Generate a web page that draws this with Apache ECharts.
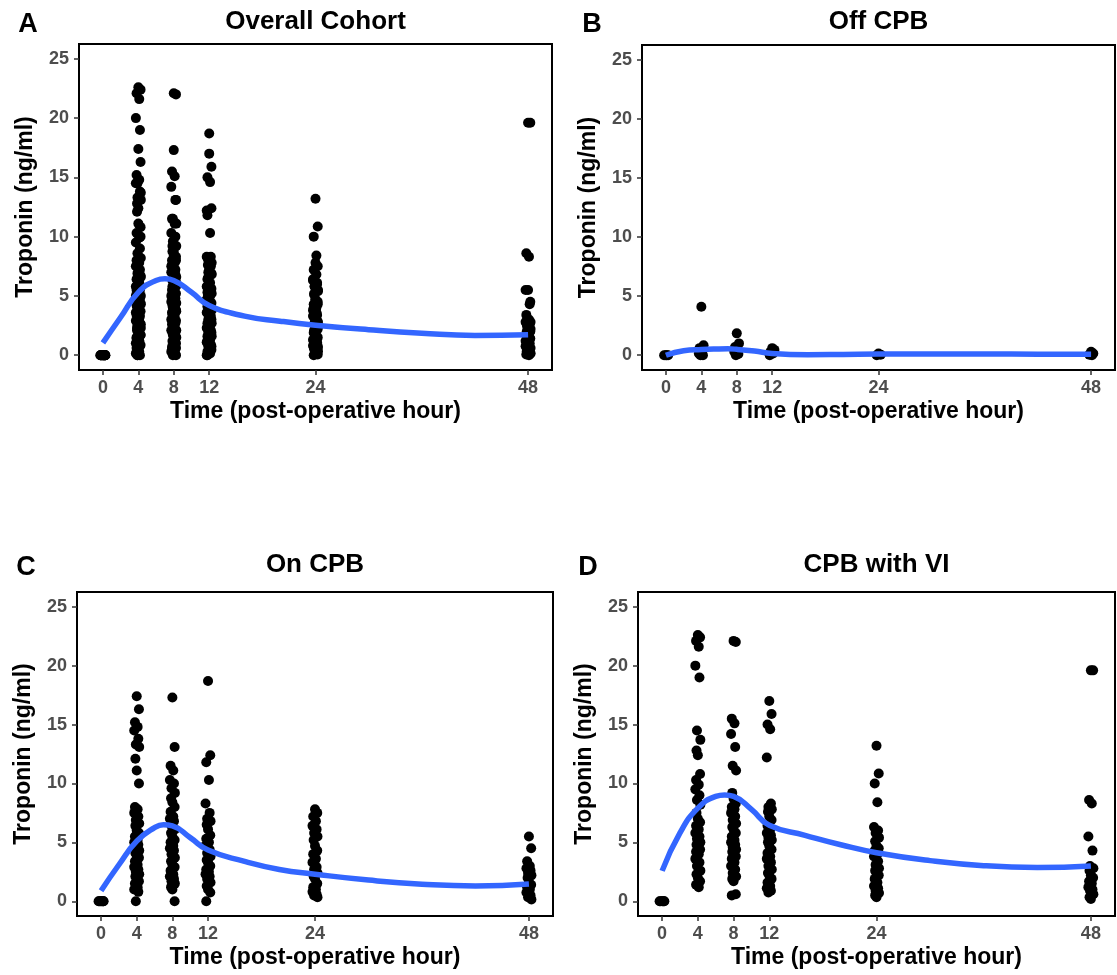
<!DOCTYPE html>
<html>
<head>
<meta charset="utf-8">
<title>Troponin over time</title>
<script src="https://cdn.jsdelivr.net/npm/echarts@6/dist/echarts.min.js"></script>
<style>
html, body { margin: 0; padding: 0; background: #fff; }
#chart { width: 1117px; height: 975px; }
</style>
</head>
<body>
<div id="chart"></div>
<script>
var hours = [0, 4, 8, 12, 24, 48];
var yTicks = [0, 5, 10, 15, 20, 25];

// troponin values per hour (one list for each entry of hours)
var offCpbValues = [
    [0, 0, 0, 0],
    [4.1, 0.85, 0.6, 0.3, 0.15, 0, 0],
    [1.85, 1.0, 0.7, 0.45, 0.3, 0.1, 0],
    [0.6, 0.45, 0.3, 0.15, 0],
    [0.15, 0.05, 0],
    [0.3, 0.15, 0.05, 0]
];
var onCpbValues = [
    [0, 0, 0, 0, 0, 0, 0, 0],
    [17.4, 16.3, 15.2, 14.8, 14.5, 13.8, 13.3, 13.1, 12.1, 11.1, 10.0, 8.0, 7.8, 7.5, 7.2, 6.9, 6.6, 6.4, 6.0, 5.8, 5.5, 5.2, 5.0, 4.8, 4.5, 4.3, 4.1, 3.9, 3.7, 3.4, 3.1, 2.9, 2.7, 2.5, 2.3, 2.1, 1.9, 1.7, 1.5, 1.2, 1.0, 0.8, 0],
    [17.3, 13.1, 11.5, 11.1, 10.3, 10.0, 9.6, 9.2, 8.75, 8.4, 8.0, 7.6, 7.2, 7.0, 6.8, 6.4, 6.1, 5.8, 5.5, 5.2, 5.0, 4.7, 4.5, 4.3, 4.0, 3.7, 3.4, 3.1, 2.9, 2.6, 2.3, 2.1, 1.9, 1.7, 1.5, 1.2, 1.0, 0],
    [18.7, 12.4, 11.8, 10.3, 8.3, 7.5, 7.0, 6.8, 6.5, 6.1, 5.6, 5.3, 5.0, 4.7, 4.4, 4.1, 3.8, 3.5, 3.3, 3.0, 2.7, 2.5, 2.3, 2.1, 1.9, 1.6, 1.3, 1.0, 0.75, 0],
    [7.8, 7.5, 7.2, 6.8, 6.4, 6.1, 5.8, 5.5, 5.2, 4.7, 4.3, 4.0, 3.6, 3.3, 2.9, 2.7, 2.4, 2.1, 1.9, 1.5, 1.2, 1.0, 0.8, 0.6, 0.5, 0.34],
    [5.5, 4.5, 3.4, 3.0, 2.8, 2.6, 2.4, 2.2, 2.0, 1.6, 1.4, 1.2, 1.0, 0.75, 0.5, 0.34, 0.15]
];
var viCpbValues = [
    [0, 0, 0, 0, 0, 0],
    [22.6, 22.4, 22.1, 21.6, 20.0, 19.0, 14.5, 13.7, 12.8, 12.4, 10.8, 10.3, 9.9, 9.5, 9.0, 8.6, 8.2, 7.5, 7.0, 6.7, 6.4, 6.1, 5.8, 5.5, 5.3, 5.0, 4.8, 4.6, 4.4, 4.2, 4.0, 3.6, 3.3, 3.0, 2.6, 2.3, 2.0, 1.7, 1.4, 1.2],
    [22.1, 22.0, 15.5, 15.1, 14.2, 13.1, 11.5, 11.1, 9.2, 8.7, 8.3, 8.0, 7.8, 7.5, 7.2, 6.9, 6.6, 6.3, 6.1, 5.8, 5.5, 5.2, 5.0, 4.8, 4.6, 4.4, 4.2, 4.0, 3.8, 3.6, 3.3, 3.0, 2.7, 2.4, 2.1, 1.9, 1.7, 0.6, 0.5],
    [17.0, 15.9, 15.0, 14.6, 12.2, 8.3, 8.0, 7.8, 7.6, 7.2, 6.9, 6.4, 6.1, 5.8, 5.6, 5.4, 5.2, 5.0, 4.7, 4.4, 4.1, 3.8, 3.6, 3.3, 3.0, 2.7, 2.4, 2.2, 1.9, 1.6, 1.3, 1.1, 0.9, 0.75],
    [13.2, 10.85, 10.0, 8.4, 6.3, 6.0, 5.8, 5.4, 5.1, 4.7, 4.5, 4.3, 4.0, 3.8, 3.4, 3.1, 2.8, 2.6, 2.4, 2.2, 1.9, 1.6, 1.3, 1.1, 0.9, 0.7, 0.5, 0.34],
    [19.6, 19.6, 8.6, 8.3, 5.5, 4.3, 3.0, 2.8, 2.6, 2.2, 2.0, 1.7, 1.5, 1.2, 1.0, 0.9, 0.6, 0.34, 0.2]
];
// horizontal jitter of the dots (hours), cycled over each column
var jitter = [0, 0.25, -0.2, 0.1, -0.28, 0.18, -0.1, 0.28, -0.15];

// smoothed trend
var curveHours = [0, 2, 4, 6, 7, 8, 10, 12, 16, 20, 24, 30, 36, 42, 48];
var overallCurve = [1.04, 3.2, 5.3, 6.3, 6.44, 6.3, 5.3, 4.2, 3.3, 2.87, 2.53, 2.15, 1.85, 1.67, 1.72];
var offCpbCurve = [0.0, 0.38, 0.48, 0.53, 0.54, 0.5, 0.35, 0.15, 0.05, 0.07, 0.1, 0.1, 0.1, 0.09, 0.08];
var onCpbCurve = [0.9, 3.1, 5.1, 6.25, 6.5, 6.4, 5.4, 4.35, 3.4, 2.7, 2.3, 1.8, 1.45, 1.3, 1.46];
var viCpbCurve = [2.58, 5.8, 7.9, 8.9, 9.02, 8.9, 7.8, 6.45, 5.6, 4.8, 4.12, 3.45, 3.02, 2.87, 3.0];

var FONT = '"Liberation Sans", Arial, Helvetica, sans-serif';

function TroponinChart() {
    this.init();
}
TroponinChart.prototype = {
    constructor: TroponinChart,
    init: function () {
        var that = this;
        that.chart = echarts.init(document.getElementById('chart'));
        that.draw();
    },
    // turn hour lists into [hour, value] pairs
    toPoints: function (lists) {
        var pts = [];
        lists.forEach(function (list, i) {
            list.forEach(function (v, j) {
                pts.push([hours[i] + jitter[j % jitter.length], v]);
            });
        });
        return pts;
    },
    toCurve: function (values) {
        return curveHours.map(function (h, i) {
            return [h, values[i]];
        });
    },
    draw: function () {
        var that = this;
        var panels = [
            { letter: 'A', title: 'Overall Cohort', grid: { left: 79, top: 44, width: 473, height: 326 },
              points: that.toPoints(offCpbValues).concat(that.toPoints(onCpbValues), that.toPoints(viCpbValues)),
              curve: overallCurve, lx: 28, ty: 22 },
            { letter: 'B', title: 'Off CPB', grid: { left: 642, top: 45, width: 473, height: 325 },
              points: that.toPoints(offCpbValues), curve: offCpbCurve, lx: 592, ty: 22 },
            { letter: 'C', title: 'On CPB', grid: { left: 77, top: 592, width: 476, height: 324 },
              points: that.toPoints(onCpbValues), curve: onCpbCurve, lx: 26, ty: 565 },
            { letter: 'D', title: 'CPB with VI', grid: { left: 638, top: 592, width: 477, height: 324 },
              points: that.toPoints(viCpbValues), curve: viCpbCurve, lx: 588, ty: 565 }
        ];
        var grids = [], xAxes = [], yAxes = [], series = [], texts = [];
        panels.forEach(function (p, i) {
            grids.push({
                left: p.grid.left, top: p.grid.top, width: p.grid.width, height: p.grid.height,
                show: true, borderColor: '#000', borderWidth: 2, backgroundColor: '#fff'
            });
            xAxes.push({
                type: 'value', gridIndex: i, min: -2.7, max: 50.7, position: 'bottom',
                name: 'Time (post-operative hour)', nameLocation: 'middle', nameGap: 30,
                nameTextStyle: { color: '#000', fontWeight: 'bold', fontSize: 23, fontFamily: FONT },
                axisLine: { show: false, onZero: false },
                splitLine: { show: false },
                axisTick: { show: true, customValues: hours, length: 5, lineStyle: { color: '#333', width: 1.5 } },
                axisLabel: { customValues: hours, margin: 9, color: '#4d4d4d', fontWeight: 'bold', fontSize: 18, fontFamily: FONT }
            });
            yAxes.push({
                type: 'value', gridIndex: i, min: -1.25, max: 26.25, position: 'left',
                name: 'Troponin (ng/ml)', nameLocation: 'middle', nameGap: 42,
                nameTextStyle: { color: '#000', fontWeight: 'bold', fontSize: 23, fontFamily: FONT },
                axisLine: { show: false, onZero: false },
                splitLine: { show: false },
                axisTick: { show: true, customValues: yTicks, length: 5, lineStyle: { color: '#333', width: 1.5 } },
                axisLabel: { customValues: yTicks, margin: 10, color: '#4d4d4d', fontWeight: 'bold', fontSize: 18, fontFamily: FONT }
            });
            series.push({
                type: 'scatter', xAxisIndex: i, yAxisIndex: i, data: p.points,
                symbol: 'circle', symbolSize: 10, itemStyle: { color: '#000', opacity: 1 },
                silent: true, z: 2
            });
            series.push({
                type: 'line', xAxisIndex: i, yAxisIndex: i, data: that.toCurve(p.curve),
                smooth: 0.5, showSymbol: false, lineStyle: { color: '#3366ff', width: 5.5 },
                silent: true, z: 3
            });
            var cx = p.grid.left + p.grid.width / 2;
            texts.push({
                type: 'text', x: cx, y: p.ty,
                style: { text: p.title, fill: '#000', font: 'bold 26px ' + FONT, align: 'center', verticalAlign: 'middle', textAlign: 'center', textVerticalAlign: 'middle' }
            });
            texts.push({
                type: 'text', x: p.lx, y: p.ty + 3,
                style: { text: p.letter, fill: '#000', font: 'bold 27px ' + FONT, align: 'center', verticalAlign: 'middle', textAlign: 'center', textVerticalAlign: 'middle' }
            });
        });
        that.chart.setOption({
            backgroundColor: '#fff',
            animation: false,
            grid: grids,
            xAxis: xAxes,
            yAxis: yAxes,
            series: series,
            graphic: { elements: texts }
        });
    }
};

var TroponinChartIns = new TroponinChart();
</script>
</body>
</html>
